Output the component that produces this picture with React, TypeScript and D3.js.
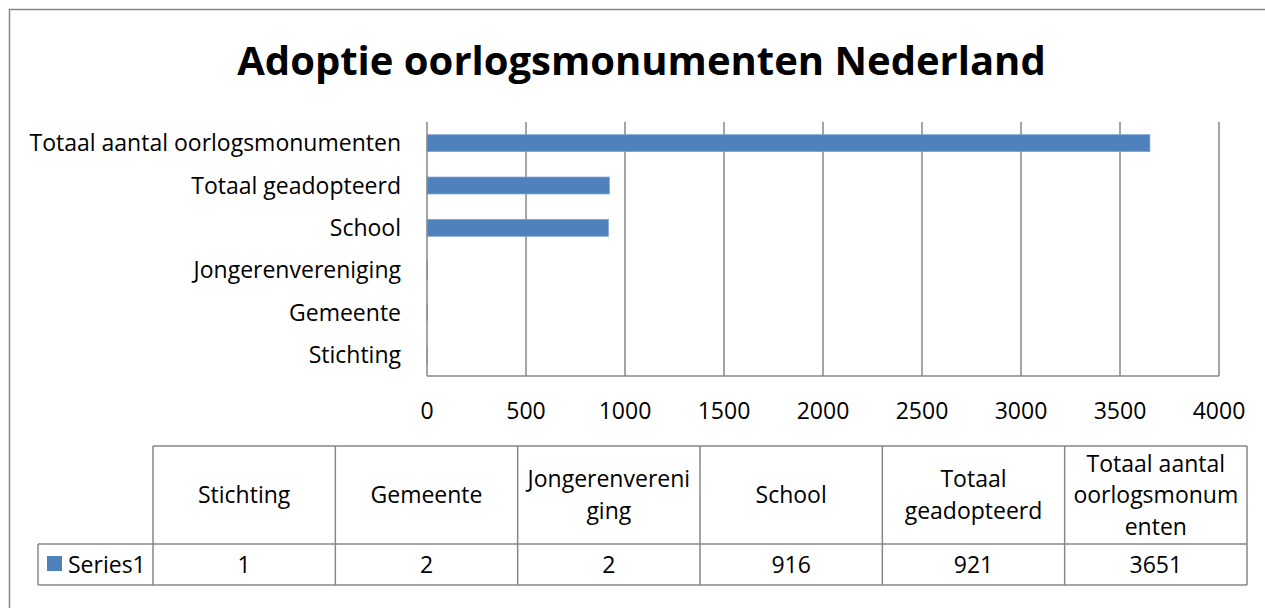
import * as d3 from 'd3';

// chart data, in the order of the data table
const categories = [
  'Stichting',
  'Gemeente',
  'Jongerenvereniging',
  'School',
  'Totaal geadopteerd',
  'Totaal aantal oorlogsmonumenten',
];
const series1 = [1, 2, 2, 916, 921, 3651];
const seriesName = 'Series1';
const xTicks = [0, 500, 1000, 1500, 2000, 2500, 3000, 3500, 4000];
// header labels as they wrap in the table cells
const headerLines = [
  ['Stichting'],
  ['Gemeente'],
  ['Jongerenvereni', 'ging'],
  ['School'],
  ['Totaal', 'geadopteerd'],
  ['Totaal aantal', 'oorlogsmonum', 'enten'],
];
const title = 'Adoptie oorlogsmonumenten Nederland';

const W = 1265;
const H = 608;
const FONT = '"Open Sans", "Noto Sans", sans-serif';
const BAR = '#4F81BD';
const LINE = '#878787';

export default function App() {
  // plot area
  const plot = { left: 427, right: 1219, top: 122, bottom: 376 };

  const x = d3.scaleLinear().domain([0, 4000]).range([plot.left, plot.right]);
  // top of the chart shows the last category
  const y = d3
    .scaleBand<string>()
    .domain([...categories].reverse())
    .range([plot.top, plot.bottom])
    .paddingInner(0.6)
    .paddingOuter(0.3);

  // data table
  const table = { left: 153, right: 1247, top: 446, mid: 544, bottom: 585, legendLeft: 38 };
  const col = d3
    .scaleBand<string>()
    .domain(categories)
    .range([table.left, table.right]);
  const lineH = 31.5;

  return (
    <svg
      width={W}
      height={H}
      style={{ position: 'absolute', left: 0, top: 0, background: '#fff' }}
      fontFamily={FONT}
    >
      <rect x={0} y={0} width={W} height={H} fill="#fff" />
      {/* chart border, runs off the picture at right and bottom */}
      <rect x={9.5} y={9.5} width={W + 40} height={H + 40} fill="none" stroke={LINE} strokeWidth={1.5} />

      <text x={641.5} y={75} textAnchor="middle" fontSize={40} fontWeight="bold" fill="#000">
        {title}
      </text>

      {/* gridlines */}
      {xTicks.slice(1).map((t) => (
        <line key={t} x1={x(t)} x2={x(t)} y1={plot.top} y2={plot.bottom} stroke={LINE} strokeWidth={1.5} />
      ))}

      {/* bars */}
      {categories.map((c, i) => (
        <rect
          key={c}
          x={x(0)}
          y={y(c)}
          width={x(series1[i]) - x(0)}
          height={y.bandwidth()}
          fill={BAR}
          stroke="#7fa3d0"
          strokeWidth={0.8}
        />
      ))}

      {/* axes */}
      <line x1={plot.left} x2={plot.left} y1={plot.top} y2={plot.bottom} stroke={LINE} strokeWidth={1.5} />
      <line x1={plot.left} x2={plot.right} y1={plot.bottom} y2={plot.bottom} stroke={LINE} strokeWidth={1.5} />

      {categories.map((c) => (
        <text
          key={c}
          x={401}
          y={(y(c) ?? 0) + y.bandwidth() / 2}
          dy="0.35em"
          textAnchor="end"
          fontSize={23}
          fill="#000"
        >
          {c}
        </text>
      ))}
      {xTicks.map((t) => (
        <text key={t} x={x(t)} y={plot.bottom + 43} textAnchor="middle" fontSize={23} fill="#000">
          {t}
        </text>
      ))}

      {/* data table */}
      <g stroke={LINE} strokeWidth={1.5} fill="none">
        <line x1={table.left} x2={table.right} y1={table.top} y2={table.top} />
        <line x1={table.legendLeft} x2={table.right} y1={table.mid} y2={table.mid} />
        <line x1={table.legendLeft} x2={table.right} y1={table.bottom} y2={table.bottom} />
        <line x1={table.legendLeft} x2={table.legendLeft} y1={table.mid} y2={table.bottom} />
        {categories.map((c) => (
          <line key={c} x1={col(c)} x2={col(c)} y1={table.top} y2={table.bottom} />
        ))}
        <line x1={table.right} x2={table.right} y1={table.top} y2={table.bottom} />
      </g>
      {categories.map((c, i) => {
        const lines = headerLines[i];
        const cx = (col(c) ?? 0) + col.bandwidth() / 2;
        const cy = (table.top + table.mid) / 2;
        return (
          <g key={c}>
            {lines.map((l, j) => (
              <text
                key={j}
                x={cx}
                y={cy + (j - (lines.length - 1) / 2) * lineH}
                dy="0.35em"
                textAnchor="middle"
                fontSize={23}
                fill="#000"
              >
                {l}
              </text>
            ))}
            <text
              x={cx}
              y={(table.mid + table.bottom) / 2}
              dy="0.35em"
              textAnchor="middle"
              fontSize={23}
              fill="#000"
            >
              {series1[i]}
            </text>
          </g>
        );
      })}
      <rect x={47} y={556} width={15} height={15} fill={BAR} />
      <text x={68} y={(table.mid + table.bottom) / 2} dy="0.35em" fontSize={23} fill="#000">
        {seriesName}
      </text>
    </svg>
  );
}
